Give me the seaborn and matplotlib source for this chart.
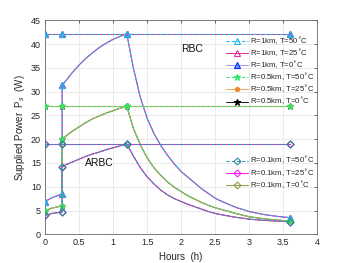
import matplotlib
matplotlib.use("Agg")
import matplotlib.pyplot as plt
import seaborn as sns

# time axis shared by the ARBC curves (markers at 0, 0.25, 0.25, 1.2, 3.6)
hours = [0, 0.1, 0.25, 0.25,
         0.3, 0.4, 0.5, 0.6, 0.7, 0.8, 0.9, 1.0, 1.1, 1.2,
         1.3, 1.4, 1.5, 1.6, 1.7, 1.8, 1.9, 2.0, 2.1, 2.2, 2.3, 2.4, 2.5, 2.6,
         2.8, 3.0, 3.2, 3.4, 3.6]
marker_idx = [0, 2, 3, 13, 32]

arbc_1km = [6.9, 7.7, 8.5, 31.3,
            32.2, 34.0, 35.6, 37.0, 38.2, 39.3, 40.2, 41.0, 41.6, 42.2,
            34.8, 28.8, 24.4, 21.2, 18.7, 16.6, 14.8, 13.2, 12.0, 10.8, 9.6, 8.6, 7.6, 6.9,
            5.7, 4.8, 4.2, 3.8, 3.5]
arbc_05km = [5.0, 5.5, 6.0, 20.0,
             20.6, 21.7, 22.6, 23.5, 24.3, 24.9, 25.5, 26.0, 26.5, 26.9,
             22.2, 18.8, 16.1, 14.0, 12.4, 11.0, 9.9, 9.0, 8.1, 7.4, 6.7, 6.1, 5.6, 5.2,
             4.4, 3.7, 3.3, 3.0, 2.8]
arbc_01km = [4.0, 4.4, 4.7, 14.2,
             14.6, 15.2, 15.8, 16.4, 16.9, 17.3, 17.8, 18.2, 18.6, 19.0,
             16.4, 14.0, 12.1, 10.6, 9.3, 8.3, 7.5, 6.9, 6.3, 5.8, 5.3, 4.8, 4.4, 4.1,
             3.6, 3.2, 2.95, 2.8, 2.65]

# RBC: constant supplied power
rbc_hours = [0, 0.25, 1.2, 3.6]
rbc_1km = [42.2, 42.2, 42.2, 42.2]
rbc_05km = [26.9, 26.9, 26.9, 26.9]
rbc_01km = [19.0, 19.0, 19.0, 19.0]

labels_1 = ["R=1km, T=50$^{\\circ}$C", "R=1km, T=25$^{\\circ}$C", "R=1km, T=0$^{\\circ}$C",
            "R=0.5km, T=50$^{\\circ}$C", "R=0.5km, T=25$^{\\circ}$C", "R=0.5km, T=0$^{\\circ}$C"]
labels_2 = ["R=0.1km, T=50$^{\\circ}$C", "R=0.1km, T=25$^{\\circ}$C", "R=0.1km, T=0$^{\\circ}$C"]

sns.set_style("whitegrid")
plt.rcParams["font.family"] = ["Liberation Sans", "DejaVu Sans"]

fig, ax = plt.subplots(figsize=(3.5, 2.63), dpi=100)
fig.subplots_adjust(left=0.129, right=0.906, bottom=0.109, top=0.923)

# (label, arbc, rbc, line colour, linestyle, marker, marker edge, marker face, zorder)
styles = [
    (labels_1[0], arbc_1km, rbc_1km, "#22b5e8", (0, (3, 2)), "^", "#22b5e8", "none", 6),
    (labels_1[1], arbc_1km, rbc_1km, "#e0339a", "-", "^", "#e0339a", "none", 5),
    (labels_1[2], arbc_1km, rbc_1km, "#a0a0f5", "-", "^", "#1a1aff", "#4fb0ee", 4),
    (labels_1[3], arbc_05km, rbc_05km, "#2ee46a", (0, (3, 2)), "*", "#2ee46a", "#2ee46a", 6),
    (labels_1[4], arbc_05km, rbc_05km, "#f5a860", "-", "o", "#f08a30", "#f08a30", 5),
    (labels_1[5], arbc_05km, rbc_05km, "#222222", "-", "*", "#000000", "#000000", 4),
    (labels_2[0], arbc_01km, rbc_01km, "#2a9a9a", (0, (3, 2)), "D", "#2a8a9a", "none", 6),
    (labels_2[1], arbc_01km, rbc_01km, "#ff1aff", "-", "D", "#ff1aff", "none", 5),
    (labels_2[2], arbc_01km, rbc_01km, "#90a040", "-", "D", "#90a040", "none", 4),
]

handles = []
for lab, arbc, rbc, col, ls, mk, mec, mfc, z in styles:
    ms = 4.5 if mk != "o" else 3
    if mk == "D":
        ms = 3.5
    kw = dict(color=col, linestyle=ls, linewidth=0.75, marker=mk, markersize=ms,
              markeredgecolor=mec, markerfacecolor=mfc, markeredgewidth=0.8, zorder=z)
    sns.lineplot(x=hours, y=arbc, sort=False, estimator=None, ax=ax,
                 markevery=marker_idx, **kw)
    handles.append(ax.get_lines()[-1])
    sns.lineplot(x=rbc_hours, y=rbc, sort=False, estimator=None, ax=ax, **kw)

ax.set_xlim(0, 4)
ax.set_ylim(0, 45)
ax.set_xticks([0, 0.5, 1, 1.5, 2, 2.5, 3, 3.5, 4])
ax.set_xticklabels(["0", "0.5", "1", "1.5", "2", "2.5", "3", "3.5", "4"])
ax.set_yticks(range(0, 46, 5))
ax.tick_params(direction="in", length=2.5, width=0.5, labelsize=6.5,
               colors="#262626", pad=3, top=True, right=True)
ax.grid(True, color="#e6e6e6", linewidth=0.6)
for s in ax.spines.values():
    s.set_color("#666666")
    s.set_linewidth(0.6)

ax.set_xlabel("Hours  (h)", fontsize=7, color="#262626", labelpad=3)
ax.set_ylabel("Supplied Power  P$_s$  (W)", fontsize=7, color="#262626", labelpad=3)

ax.text(2.16, 39, "RBC", fontsize=7.5, ha="center", va="center", color="#111111")
ax.text(0.80, 14.9, "ARBC", fontsize=7.5, ha="center", va="center", color="#111111")

leg1 = ax.legend(handles[:6], labels_1, loc="upper left", bbox_to_anchor=(0.645, 0.955),
                 frameon=False, fontsize=5.6, handlelength=2.8, handletextpad=0.3,
                 labelspacing=0.12, borderpad=0.2)
leg1.set_zorder(10)
ax.add_artist(leg1)
leg2 = ax.legend(handles[6:], labels_2, loc="upper left", bbox_to_anchor=(0.645, 0.395),
                 frameon=False, fontsize=5.6, handlelength=2.8, handletextpad=0.3,
                 labelspacing=0.12, borderpad=0.2)
leg2.set_zorder(10)

fig.savefig("out.png", dpi=100)
